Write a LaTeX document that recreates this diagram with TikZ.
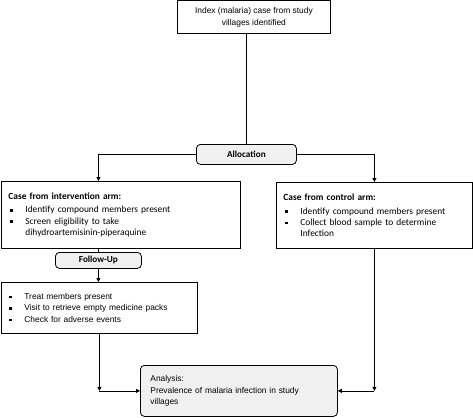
\documentclass[tikz,border=0pt]{standalone}
\usepackage{fontspec}
\setmainfont{Liberation Sans}
\newfontfamily\calib{Carlito}
\usetikzlibrary{arrows.meta}
\newcommand{\sqbul}{\hspace*{2pt}\rule[1.2pt]{2.6pt}{2.6pt}\hspace*{12.4pt}}

\begin{document}
\begin{tikzpicture}[x=1pt,y=-1pt,
		box/.style={draw,line width=0.8pt,anchor=north west,inner sep=0pt},
		greybox/.style={box,rounded corners=4pt,fill=gray!12,
			font=\calib\bfseries\fontsize{9.2}{11}\selectfont},
		arial/.style={font=\normalfont\fontsize{8.4}{11.6}\selectfont},
		calibri/.style={font=\calib\fontsize{9.4}{11.3}\selectfont},
		arr/.style={-{Triangle[length=4pt,width=4pt]},line width=0.8pt},
		lin/.style={line width=0.8pt}]
		\useasboundingbox (0,0) rectangle (473,417);
		
		\node[box,arial,minimum width=153pt,minimum height=33pt,align=center] 
		(idx) at (177,0.5) {Index (malaria) case from study\\villages identified};
		\node[greybox,minimum width=100pt,minimum height=20pt] 
		(alloc) at (196,144) {Allocation};
		
		\node[box,calibri,text width=225pt,inner xsep=7pt,minimum height=67pt,
		align=left] (intv) at (1,181) {\textbf{Case from intervention arm:}\\[2pt]\sqbul Identify compound members present\\\sqbul Screen eligibility to take\\\hspace*{17pt}dihydroartemisinin-piperaquine};
		\node[box,calibri,text width=182pt,inner xsep=7pt,minimum height=66pt,
		align=left] (ctrl) at (276,182) {\textbf{Case from control arm:}\\[2pt]\sqbul Identify compound members present\\\sqbul Collect blood sample to determine\\\hspace*{17pt}Infection};
		
		\node[greybox,minimum width=86pt,minimum height=16pt] 
		(fu) at (55,252) {Follow-Up};
		\node[box,arial,text width=184pt,inner xsep=6pt,minimum height=51pt,
		align=left] (low) at (1,282) {\sqbul Treat members present\\\sqbul Visit to retrieve empty medicine packs\\\sqbul Check for adverse events};
		
		\node[greybox,arial,text width=177pt,inner xsep=10pt,
		minimum height=51pt,align=left] (ana) at (140,365) {Analysis:\\Prevalence of malaria infection in study\\villages};
		
		\draw[lin] (alloc.north |- idx.south) -- (alloc.north);
		\draw[arr] (alloc.west) -| (fu.north |- intv.north);
		\draw[arr] (alloc.east) -| (ctrl.north);
		\draw[lin] (fu.north |- intv.south) -- (fu.north);
		\draw[arr] (fu.south) -- (fu.south |- low.north);
		
		\coordinate (cl) at (low.south |- ana.west);
		\coordinate (cr) at (ctrl.south |- ana.east);
		\draw[arr] (low.south) -- (cl);
		\draw[arr] (cl) -- (ana.west);
		\draw[arr] (ctrl.south) -- (cr);
		\draw[arr] (cr) -- (ana.east);
	\end{tikzpicture}
\end{document}
